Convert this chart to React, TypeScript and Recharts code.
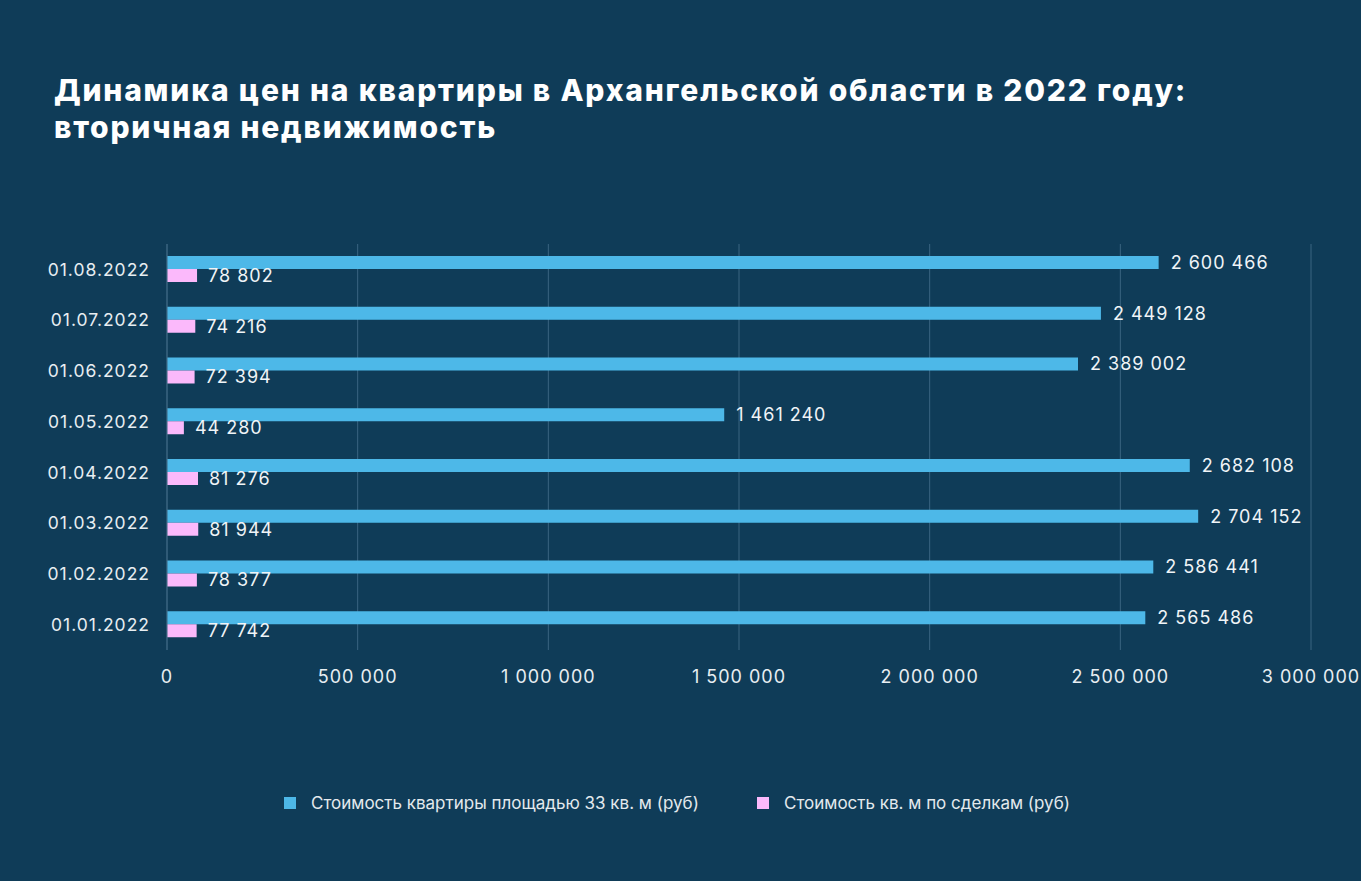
import { Bar, BarChart, CartesianGrid, LabelList, XAxis, YAxis } from 'recharts';

const dates = [
   '01.08.2022',
   '01.07.2022',
   '01.06.2022',
   '01.05.2022',
   '01.04.2022',
   '01.03.2022',
   '01.02.2022',
   '01.01.2022',
];
const flatPrice = [2600466, 2449128, 2389002, 1461240, 2682108, 2704152, 2586441, 2565486];
const sqmPrice = [78802, 74216, 72394, 44280, 81276, 81944, 78377, 77742];
const xTicks = [0, 500000, 1000000, 1500000, 2000000, 2500000, 3000000];
const seriesNames = ['Стоимость квартиры площадью 33 кв. м (руб)', 'Стоимость кв. м по сделкам (руб)'];

const data = dates.map((date, i) => ({ date, flat: flatPrice[i], sqm: sqmPrice[i] }));

const BG = '#0f3c58';
const BLUE = '#4db8e8';
const PINK = '#fbb9fb';
const FONT = 'Inter, "Open Sans", sans-serif';

// 2600466 -> "2 600 466"
const fmt = (v: unknown) => String(v).replace(/\B(?=(\d{3})+(?!\d))/g, ' ');

export default function App() {
   return (
      <div
         style={{
            position: 'absolute',
            left: 0,
            top: 0,
            width: 1361,
            height: 881,
            background: BG,
            fontFamily: FONT,
            overflow: 'hidden',
         }}
      >
         <div
            style={{
               position: 'absolute',
               left: 54,
               top: 72,
               color: '#ffffff',
               fontSize: 30,
               fontWeight: 800,
               lineHeight: '37px',
               letterSpacing: 1.8,
               whiteSpace: 'nowrap',
            }}
         >
            Динамика цен на квартиры в Архангельской области в 2022 году:
            <br />
            вторичная недвижимость
         </div>
         <div style={{ position: 'absolute', left: 0, top: 0 }}>
            <BarChart
               layout="vertical"
               width={1361}
               height={881}
               data={data}
               margin={{ top: 244, right: 50, bottom: 0, left: 0 }}
               barSize={13}
               barGap={0}
            >
               <CartesianGrid horizontal={false} stroke="#3a6480" />
               <XAxis
                  type="number"
                  domain={[0, 3000000]}
                  ticks={xTicks}
                  tickFormatter={fmt}
                  axisLine={false}
                  tickLine={false}
                  tickMargin={14}
                  height={231}
                  tick={{ fill: '#e8eef2', fontSize: 18, fontFamily: FONT, letterSpacing: 1 }}
               />
               <YAxis
                  type="category"
                  dataKey="date"
                  width={167}
                  axisLine={{ stroke: '#3a6480' }}
                  tickLine={false}
                  tickMargin={11}
                  tick={{ fill: '#e8eef2', fontSize: 17.5, fontFamily: FONT, letterSpacing: 1 }}
               />
               <Bar dataKey="flat" name={seriesNames[0]} fill={BLUE} isAnimationActive={false}>
                  <LabelList
                     dataKey="flat"
                     position="right"
                     offset={12}
                     formatter={fmt}
                     fill="#f0f4f7"
                     fontSize={18}
                     fontFamily={FONT}
                     letterSpacing={1}
                  />
               </Bar>
               <Bar dataKey="sqm" name={seriesNames[1]} fill={PINK} isAnimationActive={false}>
                  <LabelList
                     dataKey="sqm"
                     position="right"
                     offset={11}
                     formatter={fmt}
                     fill="#f0f4f7"
                     fontSize={18}
                     fontFamily={FONT}
                     letterSpacing={1}
                  />
               </Bar>
            </BarChart>
         </div>
         {/* legend */}
         {[BLUE, PINK].map((color, i) => (
            <div
               key={color}
               style={{
                  position: 'absolute',
                  left: i === 0 ? 284 : 757,
                  top: 792,
                  height: 22,
                  display: 'flex',
                  alignItems: 'center',
                  color: '#e3e9ed',
                  fontSize: 17,
                  whiteSpace: 'nowrap',
               }}
            >
               <span style={{ width: 12, height: 12, background: color, marginRight: 15 }} />
               {seriesNames[i]}
            </div>
         ))}
      </div>
   );
}
